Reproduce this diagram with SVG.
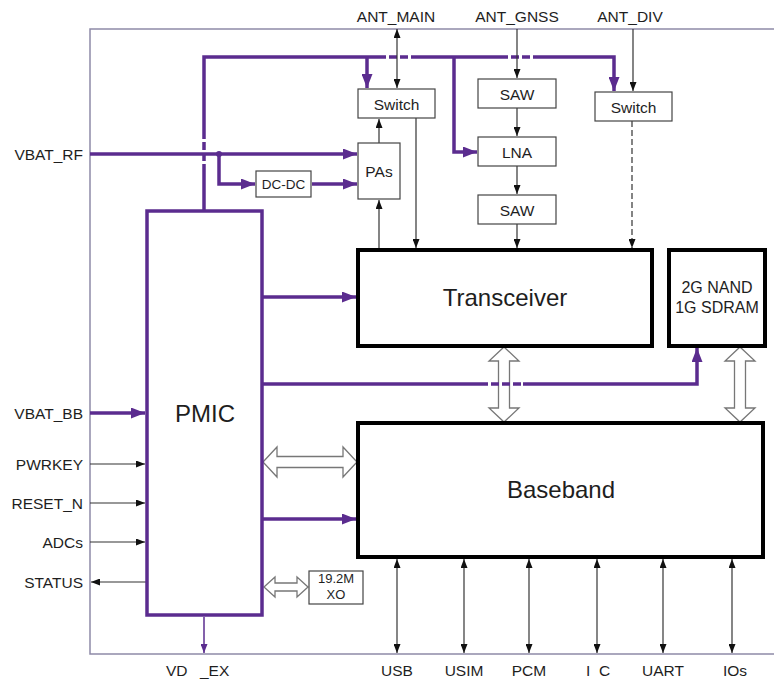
<svg xmlns="http://www.w3.org/2000/svg" width="774" height="686" viewBox="0 0 774 686">
<style>
text{font-family:"Liberation Sans",Arial,sans-serif;fill:#1e1e1e}
.lbl{font-size:15.5px}
.box{font-size:15.5px;text-anchor:middle}
.big{font-size:24px;text-anchor:middle}
.sm{font-size:13px;text-anchor:middle}
.frame{fill:none;stroke:#8f8ba8;stroke-width:1.5}
.tb{fill:#fff;stroke:#444;stroke-width:1.2}
.kb{fill:#fff;stroke:#000;stroke-width:4}
.pb{fill:#fff;stroke:#5b2c8f;stroke-width:3.5}
.p{fill:none;stroke:#5b2c8f;stroke-width:3.5}
.pd{fill:none;stroke:#5b2c8f;stroke-width:3.5;stroke-dasharray:8 3}
.t{fill:none;stroke:#333;stroke-width:1.2}
.g{fill:none;stroke:#444;stroke-width:1.3}
.blk{fill:#fff;stroke:#777;stroke-width:1.3}
</style>
<defs>
<marker id="pa" markerUnits="userSpaceOnUse" markerWidth="14" markerHeight="11" refX="14" refY="5.5" orient="auto"><path d="M0,0 L14,5.5 L0,11 z" fill="#5b2c8f"/></marker>
<marker id="pas" markerUnits="userSpaceOnUse" markerWidth="9" markerHeight="7" refX="9" refY="3.5" orient="auto"><path d="M0,0 L9,3.5 L0,7 z" fill="#5b2c8f"/></marker>
<marker id="ta" markerUnits="userSpaceOnUse" markerWidth="9" markerHeight="7" refX="9" refY="3.5" orient="auto-start-reverse"><path d="M0,0 L9,3.5 L0,7 z" fill="#111"/></marker>
</defs>

<g id="frame">
<path class="frame" d="M776,29 H90 V654 H776"/>
</g>

<g id="connectors">
<!-- top purple bus -->
<path class="p" d="M204,211 V172"/>
<path class="pd" d="M204,172 V137"/>
<path class="p" d="M204,137 V57 H378"/>
<path class="pd" d="M378,57 H413"/>
<path class="p" d="M413,57 H500"/>
<path class="pd" d="M500,57 H533"/>
<path class="p" d="M533,57 H614 V91" marker-end="url(#pa)"/>
<path class="p" d="M367,57 V88" marker-end="url(#pa)"/>
<path class="p" d="M454,57 V152 H477" marker-end="url(#pa)"/>
<!-- VBAT_RF -->
<path class="p" d="M90,154 H357" marker-end="url(#pa)"/>
<circle cx="219" cy="154" r="3" fill="#5b2c8f"/>
<path class="p" d="M219,154 V184 H255" marker-end="url(#pa)"/>
<path class="p" d="M312,184 H357" marker-end="url(#pa)"/>
<!-- antennas and RF thin -->
<path class="t" d="M397,29 V88" marker-start="url(#ta)" marker-end="url(#ta)"/>
<path class="t" d="M379,143 V119" marker-end="url(#ta)"/>
<path class="t" d="M379,248 V200" marker-end="url(#ta)"/>
<path class="t" d="M416,118 V248" marker-end="url(#ta)"/>
<path class="t" d="M517,29 V78" marker-end="url(#ta)"/>
<path class="t" d="M517,108 V136" marker-end="url(#ta)"/>
<path class="t" d="M517,166 V194" marker-end="url(#ta)"/>
<path class="t" d="M517,224 V248" marker-end="url(#ta)"/>
<path class="t" d="M633,29 V91" marker-end="url(#ta)"/>
<path class="t" d="M632,121 V248" stroke-dasharray="6 3" marker-end="url(#ta)"/>
<!-- block arrows -->
<polygon class="blk" points="504,347 519,361 509.5,361 509.5,408 519,408 504,422 489,408 498.5,408 498.5,361 489,361"/>
<polygon class="blk" points="740,347 755,361 745.5,361 745.5,408 755,408 740,422 725,408 734.5,408 734.5,361 725,361"/>
<polygon class="blk" points="263,462 277,447 277,456.5 343,456.5 343,447 357,462 343,477 343,467.5 277,467.5 277,477"/>
<polygon class="blk" points="264,587 275,577 275,583 297,583 297,577 308,587 297,597 297,591 275,591 275,597"/>
<!-- PMIC outputs -->
<path class="p" d="M263,297 H356" marker-end="url(#pa)"/>
<path class="p" d="M263,384 H480"/>
<path class="pd" d="M480,384 H523"/>
<path class="p" d="M523,384 H697 V348" marker-end="url(#pa)"/>
<path class="p" d="M263,519 H356" marker-end="url(#pa)"/>
<path d="M204,617 V653" fill="none" stroke="#5b2c8f" stroke-width="1.5" marker-end="url(#pas)"/>
<!-- PMIC inputs -->
<path class="p" d="M90,413 H145" marker-end="url(#pa)"/>
<path class="t" d="M90,464 H145" marker-end="url(#ta)"/>
<path class="t" d="M90,503 H145" marker-end="url(#ta)"/>
<path class="t" d="M90,542 H145" marker-end="url(#ta)"/>
<path class="t" d="M146,582 H91" marker-end="url(#ta)"/>
<!-- baseband interfaces -->
<path class="g" d="M397,559 V653" marker-start="url(#ta)" marker-end="url(#ta)"/>
<path class="g" d="M464,559 V653" marker-start="url(#ta)" marker-end="url(#ta)"/>
<path class="g" d="M529,559 V653" marker-start="url(#ta)" marker-end="url(#ta)"/>
<path class="g" d="M597,559 V653" marker-start="url(#ta)" marker-end="url(#ta)"/>
<path class="g" d="M663,559 V653" marker-start="url(#ta)" marker-end="url(#ta)"/>
<path class="g" d="M732,559 V653" marker-start="url(#ta)" marker-end="url(#ta)"/>
</g>

<g id="switch-main"><rect class="tb" x="358" y="89" width="77" height="29"/><text class="box" x="396.5" y="109.5">Switch</text></g>
<g id="pas"><rect class="tb" x="358" y="143" width="42" height="56"/><text class="box" x="379" y="176.5">PAs</text></g>
<g id="dcdc"><rect class="tb" x="256" y="171" width="55" height="26" stroke="#7a6e99"/><text class="box" x="283.5" y="189" style="font-size:13.5px">DC-DC</text></g>
<g id="saw1"><rect class="tb" x="478" y="79" width="78" height="29"/><text class="box" x="517" y="99.5">SAW</text></g>
<g id="lna"><rect class="tb" x="478" y="137" width="78" height="29"/><text class="box" x="517" y="157.5">LNA</text></g>
<g id="saw2"><rect class="tb" x="478" y="195" width="78" height="29"/><text class="box" x="517" y="215.5">SAW</text></g>
<g id="switch-div"><rect class="tb" x="595" y="92" width="77" height="29"/><text class="box" x="633.5" y="112.5">Switch</text></g>
<g id="transceiver"><rect class="kb" x="358" y="250" width="294" height="96"/><text class="big" x="505" y="306">Transceiver</text></g>
<g id="memory"><rect class="kb" x="669" y="250" width="96" height="96"/><text class="box" x="717" y="293" style="font-size:16px">2G NAND</text><text class="box" x="717" y="313" style="font-size:16px">1G SDRAM</text></g>
<g id="baseband"><rect class="kb" x="358" y="423" width="405" height="134"/><text class="big" x="561" y="498">Baseband</text></g>
<g id="pmic"><rect class="pb" x="147" y="211" width="115" height="404"/><text class="big" x="205" y="422">PMIC</text></g>
<g id="xo"><rect class="tb" x="309" y="571" width="54" height="33"/><text class="sm" x="336" y="583">19.2M</text><text class="sm" x="336" y="599">XO</text></g>

<g id="labels">
<text class="lbl" x="396" y="22" text-anchor="middle">ANT_MAIN</text>
<text class="lbl" x="517" y="22" text-anchor="middle">ANT_GNSS</text>
<text class="lbl" x="630" y="22" text-anchor="middle">ANT_DIV</text>
<text class="lbl" x="83" y="160" text-anchor="end">VBAT_RF</text>
<text class="lbl" x="83" y="419" text-anchor="end">VBAT_BB</text>
<text class="lbl" x="83" y="470" text-anchor="end">PWRKEY</text>
<text class="lbl" x="83" y="509" text-anchor="end">RESET_N</text>
<text class="lbl" x="83" y="548" text-anchor="end">ADCs</text>
<text class="lbl" x="83" y="588" text-anchor="end">STATUS</text>
<text class="lbl" y="676"><tspan x="166">VD</tspan><tspan x="200">_EX</tspan></text>
<text class="lbl" x="397" y="676" text-anchor="middle">USB</text>
<text class="lbl" x="464" y="676" text-anchor="middle">USIM</text>
<text class="lbl" x="529" y="676" text-anchor="middle">PCM</text>
<text class="lbl" y="676"><tspan x="586">I</tspan><tspan x="599">C</tspan></text>
<text class="lbl" x="663" y="676" text-anchor="middle">UART</text>
<text class="lbl" x="735" y="676" text-anchor="middle">IOs</text>
</g>
</svg>
